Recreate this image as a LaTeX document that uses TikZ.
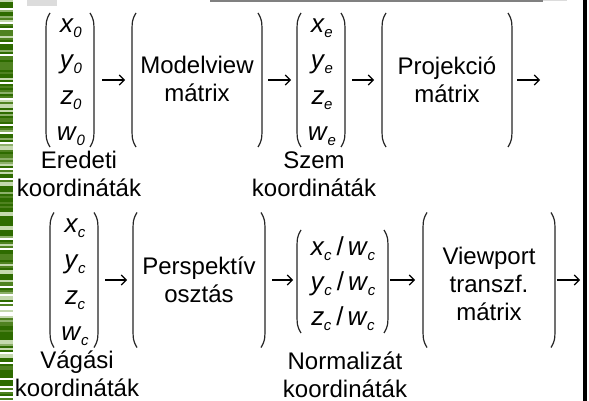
\documentclass[tikz,border=0pt]{standalone}
\usepackage{fontspec}
\setmainfont{Liberation Sans}
\usetikzlibrary{arrows.meta}

\definecolor{stripeA}{HTML}{2E6B00}
\definecolor{stripeB}{HTML}{4F8220}
\definecolor{stripeC}{HTML}{8DB06A}
\definecolor{stripeD}{HTML}{C4D8AE}
\definecolor{barlight}{HTML}{DCDCDC}
\definecolor{bardark}{HTML}{808080}

% italic variable with a lowered italic index
\newcommand\idx[1]{\raisebox{-5pt}{\fontsize{15}{15}\selectfont\itshape #1}}
\newcommand\var[2]{\textit{#1}\kern-0.5pt\idx{#2}}
\newcommand\ratio[1]{\var{#1}{c}\hspace{5pt}/\hspace{4pt}\var{w}{c}}

% tall round brackets drawn on the left and right sides of a node
\newcommand\parenpair[1]{%
  \draw[parenline] ([xshift=4pt]#1.north west)
    .. controls ([yshift=-7pt]#1.north west) .. ([yshift=-24pt]#1.north west)
    -- ([yshift=24pt]#1.south west)
    .. controls ([yshift=7pt]#1.south west) .. ([xshift=4pt]#1.south west);
  \draw[parenline] ([xshift=-4pt]#1.north east)
    .. controls ([yshift=-7pt]#1.north east) .. ([yshift=-24pt]#1.north east)
    -- ([yshift=24pt]#1.south east)
    .. controls ([yshift=7pt]#1.south east) .. ([xshift=-4pt]#1.south east);
}

\tikzset{
  frame/.style={inner sep=0pt, outer sep=0pt},
  block/.style={inner sep=0pt, outer sep=0pt, align=center,
    font=\fontsize{24}{28}\selectfont},
  vecblock/.style={block, font=\fontsize{26}{36}\selectfont},
  normblock/.style={block, font=\fontsize{26}{35}\selectfont},
  caption/.style={inner sep=0pt, align=center, font=\fontsize{24}{27.5}\selectfont},
  parenline/.style={line width=1.2pt, draw=black!85},
  flow/.style={line width=1.1pt, -{Straight Barb[length=5pt,width=10pt]}}
}

\begin{document}
\begin{tikzpicture}[x=1pt, y=-1pt]
\useasboundingbox (0,0) rectangle (589,401);
\fill[white] (0,0) rectangle (589,401);

% green striped strip on the left edge
\pgfmathsetseed{4711}
\foreach \i in {0,...,199}{
  \pgfmathrandominteger{\c}{0}{7}
  \ifnum\c=0 \def\sc{stripeA}\fi
  \ifnum\c=1 \def\sc{stripeB}\fi
  \ifnum\c=2 \def\sc{stripeC}\fi
  \ifnum\c=3 \def\sc{stripeD}\fi
  \ifnum\c=4 \def\sc{stripeA}\fi
  \ifnum\c=5 \def\sc{white}\fi
  \ifnum\c=6 \def\sc{stripeB}\fi
  \ifnum\c=7 \def\sc{stripeA}\fi
  \fill[\sc] (0,2*\i) rectangle (13,2*\i+2);
}

% bars along the top edge and the frame line on the right
\fill[barlight] (27,0) rectangle (57,6);
\fill[bardark] (210,0) rectangle (543,2);
\fill[barlight] (543,0) rectangle (567,1.5);
\fill[black] (583,0) rectangle (587,401);

% first row: object -> eye coordinates
\node[frame, minimum width=48pt, minimum height=134pt] (v0) at (70,80) {};
\node[vecblock] (v0t) at (71,82)
  {\var{x}{0}\\ \var{y}{0}\\ \var{z}{0}\\ \var{w}{0}};
\node[frame, minimum width=130pt, minimum height=134pt] (mv) at (197,80) {};
\node[block] (mvt) at (197,79) {Modelview\\mátrix};
\node[frame, minimum width=48pt, minimum height=134pt] (ve) at (321,80) {};
\node[vecblock] (vet) at (322,82)
  {\var{x}{e}\\ \var{y}{e}\\ \var{z}{e}\\ \var{w}{e}};
\node[frame, minimum width=130pt, minimum height=134pt] (pm) at (447,80) {};
\node[block] (pmt) at (447,80) {Projekció\\mátrix};
\coordinate (out1) at (540,80);

\node[caption] (c0) at (79,174) {Eredeti\\koordináták};
\node[caption] (ce) at (314,174) {Szem\\koordináták};

% second row: clip -> normalized -> window
\node[frame, minimum width=48pt, minimum height=135pt] (vc) at (74,280) {};
\node[vecblock] (vct) at (75,282)
  {\var{x}{c}\\ \var{y}{c}\\ \var{z}{c}\\ \var{w}{c}};
\node[frame, minimum width=132pt, minimum height=135pt] (pd) at (199,280) {};
\node[block] (pdt) at (199,280) {Perspektív\\osztás};
\node[frame, minimum width=91pt, minimum height=103pt] (vn) at (342.5,281.5) {};
\node[normblock] (vnt) at (343,284)
  {\ratio{x}\\ \ratio{y}\\ \ratio{z}};
\node[frame, minimum width=132pt, minimum height=135pt] (vp) at (489,280) {};
\node[block] (vpt) at (489,284) {Viewport\\transzf.\\mátrix};
\coordinate (out2) at (580,280);

\node[caption] (cc) at (77,374) {Vágási\\koordináták};
\node[caption] (cn) at (345,375) {Normalizát\\koordináták};

\foreach \n in {v0,mv,ve,pm,vc,pd,vn,vp}{\parenpair{\n}}

% connectors
\draw[flow, shorten <=8pt, shorten >=7pt] (v0) -- (mv);
\draw[flow, shorten <=6pt, shorten >=6pt] (mv) -- (ve);
\draw[flow, shorten <=7pt, shorten >=8pt] (ve) -- (pm);
\draw[flow, shorten <=5pt] (pm.east |- out1) -- (out1);
\draw[flow, shorten <=7pt, shorten >=6pt] (vc) -- (pd);
\draw[flow, shorten <=7pt, shorten >=4pt] (pd) -- (vn.west |- pd.east);
\draw[flow, shorten <=2pt, shorten >=8pt] (vn.east |- vp.west) -- (vp.west);
\draw[flow, shorten <=2pt] (vp.east) -- (out2);
\end{tikzpicture}
\end{document}
